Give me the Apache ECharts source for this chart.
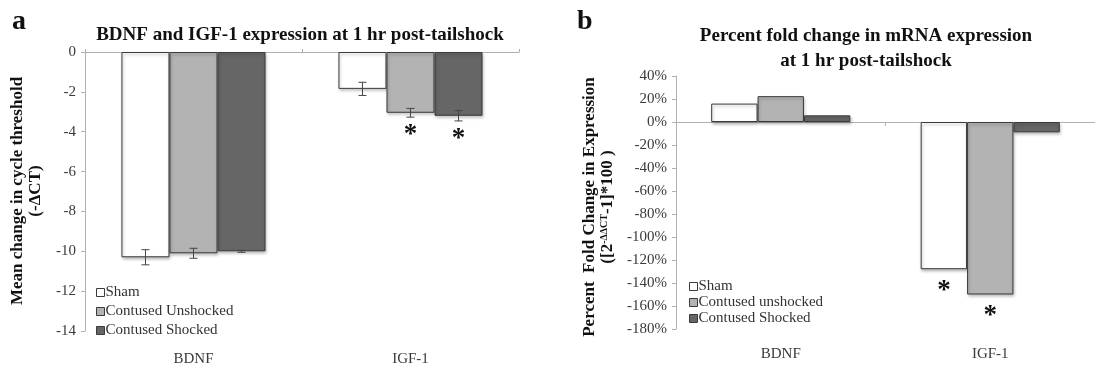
<!DOCTYPE html>
<html>
<head>
<meta charset="utf-8">
<script src="https://cdn.jsdelivr.net/npm/echarts@6/dist/echarts.min.js"></script>
<style>
  html, body { margin: 0; padding: 0; background: #ffffff; }
  #chart { width: 1095px; height: 368px; }
</style>
</head>
<body>
<div id="chart"></div>
<script>
// Genes measured
const genes = ['BDNF', 'IGF-1'];

// Panel a: mean change in cycle threshold (-ΔCT) with SEM
const ctSham = [-10.3, -1.85];
const ctUnshocked = [-10.1, -3.05];
const ctShocked = [-10.0, -3.2];
const ctShamErr = [0.38, 0.33];
const ctUnshockedErr = [0.25, 0.22];
const ctShockedErr = [0.05, 0.26];
const ctSig = [[0, 0], [0, 1], [0, 1]];          // * markers per group, per gene

// Panel b: percent fold change ([2^-ΔΔCT - 1] * 100)
const pctSham = [16, -128];
const pctUnshocked = [22.5, -150];
const pctShocked = [5.8, -9];
const pctSig = [[0, 1], [0, 1], [0, 0]];

// Axis ranges [min, max, step]
const ctAxis = [-14, 0, 2];
const pctAxis = [-180, 40, 20];

const groupNamesA = ['Sham', 'Contused Unshocked', 'Contused Shocked'];
const groupNamesB = ['Sham', 'Contused unshocked', 'Contused Shocked'];

const FONT = '"Liberation Serif", "Times New Roman", serif';
const fills = ['#ffffff', '#b3b3b3', '#666666'];
const GAP = 0.336;
const axisGrey = '#b0b0b0';
const tickText = '#3a3a3a';

const barStyle = (i) => ({
  color: fills[i],
  borderColor: '#3a3a3a',
  borderWidth: 1,
  shadowColor: 'rgba(0,0,0,0.28)',
  shadowBlur: 3,
  shadowOffsetX: 1,
  shadowOffsetY: 2
});

// rows: [geneIndex, groupIndex, value, err, sig]
function rows(valueSets, errSets, sigSets) {
  const out = [];
  valueSets.forEach((vals, g) => {
    vals.forEach((v, c) => {
      out.push([c, g, v, errSets ? errSets[g][c] : 0, sigSets[g][c]]);
    });
  });
  return out;
}

// Error bars and significance stars drawn over each bar
function overlay(starGap) {
  return function (params, api) {
    const cat = api.value(0), k = api.value(1), v = api.value(2), e = api.value(3), sig = api.value(4);
    const band = api.size([1, 0])[0];
    const barW = band * (1 - GAP) / 3;
    const cx = api.coord([cat, 0])[0] + (k - 1) * barW;
    const children = [];
    const lineStyle = { stroke: '#444444', lineWidth: 1 };
    if (e > 0) {
      const yTop = api.coord([cat, v + e])[1];
      const yBot = api.coord([cat, v - e])[1];
      children.push({ type: 'line', shape: { x1: cx, y1: yTop, x2: cx, y2: yBot }, style: lineStyle });
      children.push({ type: 'line', shape: { x1: cx - 4, y1: yTop, x2: cx + 4, y2: yTop }, style: lineStyle });
      children.push({ type: 'line', shape: { x1: cx - 4, y1: yBot, x2: cx + 4, y2: yBot }, style: lineStyle });
    }
    if (sig) {
      const yEnd = api.coord([cat, v - e])[1];
      children.push({
        type: 'text', x: cx, y: yEnd + starGap,
        style: { text: '*', fill: '#111111', font: 'bold 27px ' + FONT, textAlign: 'center', textVerticalAlign: 'middle' }
      });
    }
    return { type: 'group', children };
  };
}

function valueAxis(gridIndex, range, fmt) {
  return {
    type: 'value', gridIndex,
    min: range[0], max: range[1], interval: range[2],
    axisLine: { show: true, lineStyle: { color: axisGrey, width: 1 } },
    axisTick: { show: true, length: 4, lineStyle: { color: axisGrey } },
    splitLine: { show: false },
    axisLabel: { color: tickText, fontFamily: FONT, fontSize: 15, margin: 9, formatter: fmt }
  };
}

const chart = echarts.init(document.getElementById('chart'), null, { renderer: 'canvas' });

chart.setOption({
  animation: false,
  backgroundColor: '#ffffff',
  grid: [
    { left: 85, top: 52, width: 434, height: 279 },
    { left: 676, top: 76, width: 419, height: 253 }
  ],
  xAxis: [
    // category labels, panel a
    { type: 'category', gridIndex: 0, data: genes, position: 'bottom',
      axisLine: { show: false, onZero: false }, axisTick: { show: false },
      axisLabel: { color: tickText, fontFamily: FONT, fontSize: 15, margin: 21 } },
    // zero line, panel a
    { type: 'category', gridIndex: 0, data: genes, position: 'top',
      axisLine: { show: true, onZero: false, lineStyle: { color: axisGrey } },
      axisTick: { show: true, length: 3, lineStyle: { color: axisGrey } },
      axisLabel: { show: false } },
    // category labels, panel b
    { type: 'category', gridIndex: 1, data: genes, position: 'bottom',
      axisLine: { show: false, onZero: false }, axisTick: { show: false },
      axisLabel: { color: tickText, fontFamily: FONT, fontSize: 15, margin: 18 } },
    // zero line, panel b
    { type: 'category', gridIndex: 1, data: genes, position: 'bottom',
      axisLine: { show: true, onZero: true, lineStyle: { color: axisGrey } },
      axisTick: { show: true, length: 4, lineStyle: { color: axisGrey } },
      axisLabel: { show: false } }
  ],
  yAxis: [
    valueAxis(0, ctAxis, '{value}'),
    valueAxis(1, pctAxis, '{value}%')
  ],
  legend: [
    { orient: 'vertical', left: 91, top: 280, itemWidth: 8, itemHeight: 8, itemGap: 4,
      icon: 'rect', data: groupNamesA, selectedMode: false,
      itemStyle: { shadowBlur: 0, shadowOffsetX: 0, shadowOffsetY: 0, borderWidth: 1 },
      textStyle: { fontFamily: FONT, fontSize: 15, color: '#333333', padding: [0, 0, 0, -4] } },
    { orient: 'vertical', left: 684, top: 274, itemWidth: 8, itemHeight: 8, itemGap: 1,
      icon: 'rect', data: groupNamesB, selectedMode: false,
      itemStyle: { shadowBlur: 0, shadowOffsetX: 0, shadowOffsetY: 0, borderWidth: 1 },
      textStyle: { fontFamily: FONT, fontSize: 15, color: '#333333', padding: [0, 0, 0, -4] } }
  ],
  series: [
    { name: groupNamesA[0], type: 'bar', xAxisIndex: 0, yAxisIndex: 0, data: ctSham, barGap: 0, barCategoryGap: (GAP * 100) + '%', itemStyle: barStyle(0) },
    { name: groupNamesA[1], type: 'bar', xAxisIndex: 0, yAxisIndex: 0, data: ctUnshocked, barGap: 0, barCategoryGap: (GAP * 100) + '%', itemStyle: barStyle(1) },
    { name: groupNamesA[2], type: 'bar', xAxisIndex: 0, yAxisIndex: 0, data: ctShocked, barGap: 0, barCategoryGap: (GAP * 100) + '%', itemStyle: barStyle(2) },
    { type: 'custom', xAxisIndex: 0, yAxisIndex: 0, z: 5, silent: true,
      renderItem: overlay(18), encode: { x: 0, y: 2 },
      data: rows([ctSham, ctUnshocked, ctShocked], [ctShamErr, ctUnshockedErr, ctShockedErr], ctSig) },

    { name: groupNamesB[0], type: 'bar', xAxisIndex: 2, yAxisIndex: 1, data: pctSham, barGap: 0, barCategoryGap: (GAP * 100) + '%', itemStyle: barStyle(0) },
    { name: groupNamesB[1], type: 'bar', xAxisIndex: 2, yAxisIndex: 1, data: pctUnshocked, barGap: 0, barCategoryGap: (GAP * 100) + '%', itemStyle: barStyle(1) },
    { name: groupNamesB[2], type: 'bar', xAxisIndex: 2, yAxisIndex: 1, data: pctShocked, barGap: 0, barCategoryGap: (GAP * 100) + '%', itemStyle: barStyle(2) },
    { type: 'custom', xAxisIndex: 2, yAxisIndex: 1, z: 5, silent: true,
      renderItem: overlay(22), encode: { x: 0, y: 2 },
      data: rows([pctSham, pctUnshocked, pctShocked], null, pctSig) }
  ],
  graphic: [
    { type: 'text', left: 12, top: 8, style: { text: 'a', font: 'bold 28px ' + FONT, fill: '#111111' } },
    { type: 'text', x: 300, y: 35, style: { text: 'BDNF and IGF-1 expression at 1 hr post-tailshock',
      font: 'bold 19px ' + FONT, fill: '#111111', textAlign: 'center', textVerticalAlign: 'middle' } },
    { type: 'text', x: 27, y: 191, rotation: Math.PI / 2,
      style: { text: 'Mean change in cycle threshold\n(-ΔCT)', font: 'bold 17px ' + FONT, lineHeight: 18,
        fill: '#111111', textAlign: 'center', textVerticalAlign: 'middle' } },

    { type: 'text', left: 577, top: 8, style: { text: 'b', font: 'bold 28px ' + FONT, fill: '#111111' } },
    { type: 'text', x: 866, y: 49, style: { text: 'Percent fold change in mRNA expression\nat 1 hr post-tailshock',
      font: 'bold 19px ' + FONT, lineHeight: 25, fill: '#111111', textAlign: 'center', textVerticalAlign: 'middle' } },
    { type: 'text', x: 599, y: 207, rotation: Math.PI / 2,
      style: { text: 'Percent  Fold Change in Expression\n([2{sup|-ΔΔCT}-1]*100 )', font: 'bold 17px ' + FONT, lineHeight: 18,
        fill: '#111111', textAlign: 'center', textVerticalAlign: 'middle',
        rich: { sup: { fontFamily: FONT, fontWeight: 'bold', fontSize: 10, verticalAlign: 'top', lineHeight: 12 } } } }
  ]
});
</script>
</body>
</html>
